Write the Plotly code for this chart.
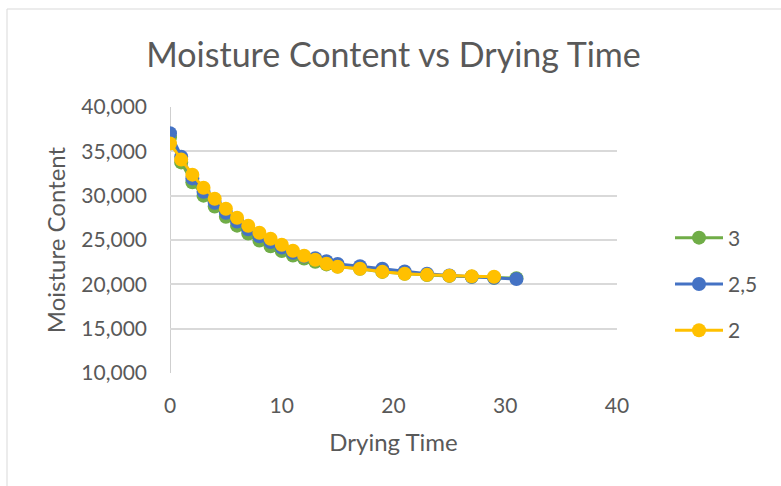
import plotly.graph_objects as go

# ---- data ----
time_full = [0, 1, 2, 3, 4, 5, 6, 7, 8, 9, 10, 11, 12, 13, 14, 15, 17, 19, 21, 23, 25, 27, 29, 31]
time_2 = [0, 1, 2, 3, 4, 5, 6, 7, 8, 9, 10, 11, 12, 13, 14, 15, 17, 19, 21, 23, 25, 27, 29]

mc_3 = [36600, 33750, 31500, 30000, 28780, 27630, 26620, 25730, 24950, 24300, 23750, 23250,
        22900, 22550, 22250, 22000, 21750, 21400, 21200, 21050, 20950, 20850, 20750, 20680]
mc_25 = [37050, 34400, 31950, 30450, 29200, 28080, 27080, 26200, 25430, 24780, 24150, 23550,
         23150, 22950, 22600, 22300, 22050, 21750, 21450, 21200, 21000, 20850, 20750, 20600]
mc_2 = [35880, 34070, 32370, 30900, 29660, 28530, 27510, 26610, 25820, 25140, 24460, 23790,
        23220, 22770, 22320, 21980, 21750, 21410, 21190, 21070, 20960, 20900, 20850]

series = [
    ("3", time_full, mc_3, "#70AD47"),
    ("2,5", time_full, mc_25, "#4472C4"),
    ("2", time_2, mc_2, "#FFC000"),
]

x_ticks = [0, 10, 20, 30, 40]
y_ticks = [10000, 15000, 20000, 25000, 30000, 35000, 40000]

FONT = "Lato, 'Open Sans', sans-serif"
TXT = "#595959"
GRID = "#D9D9D9"

fig = go.Figure()
for name, xs, ys, col in series:
    fig.add_trace(go.Scatter(
        x=xs, y=ys, name=name, mode="lines+markers", legendgroup=name,
        line=dict(color=col, width=3),
        marker=dict(color=col, size=14, line=dict(width=0)),
    ))

W, H = 781, 486
L, R, T, B = 170, 164, 107, 113
pw, ph = W - L - R, H - T - B

def px_to_paper_x(px):
    return (px - L) / pw

def px_to_paper_y(py):
    return (H - B - py) / ph

fig.update_layout(
    width=W, height=H,
    margin=dict(l=L, r=R, t=T, b=B, autoexpand=False),
    paper_bgcolor="white", plot_bgcolor="white",
    font=dict(family=FONT, color=TXT),
    title=dict(text="Moisture Content vs Drying Time", x=0.5, xref="paper",
               y=1 - 55 / H, yanchor="middle",
               font=dict(size=34, color=TXT, family=FONT)),
    showlegend=True,
    legend=dict(x=px_to_paper_x(670), y=px_to_paper_y(284), xanchor="left", yanchor="middle",
                font=dict(size=21, color=TXT, family=FONT), itemwidth=48,
                traceorder="grouped", tracegroupgap=16, bgcolor="rgba(0,0,0,0)"),
    xaxis=dict(range=[0, 40], tickvals=x_ticks, showgrid=False, zeroline=False,
               showline=False, ticks="", ticklabelstandoff=18,
               tickfont=dict(size=21, color=TXT, family=FONT),
               title=dict(text="Drying Time", standoff=18,
                          font=dict(size=24, color=TXT, family=FONT)),
               automargin=False),
    yaxis=dict(range=[10000, 40000], tickvals=y_ticks, tickformat=",",
               showgrid=True, gridcolor=GRID, gridwidth=1.5, zeroline=False,
               showline=False, ticks="", ticklabelstandoff=22,
               tickfont=dict(size=21, color=TXT, family=FONT),
               title=dict(text="Moisture Content", standoff=8,
                          font=dict(size=24, color=TXT, family=FONT)),
               automargin=False),
)

# vertical axis line at x = 0 (Excel value axis)
fig.add_shape(type="line", xref="x", yref="paper", x0=0, x1=0, y0=0, y1=1,
              line=dict(color="#BFBFBF", width=1.5), layer="below")
# chart area border
fig.add_shape(type="rect", xref="paper", yref="paper",
              x0=px_to_paper_x(7), x1=px_to_paper_x(W + 20),
              y0=px_to_paper_y(H + 20), y1=px_to_paper_y(9),
              line=dict(color=GRID, width=1), fillcolor="rgba(0,0,0,0)", layer="below")

fig.write_html("out.html")
